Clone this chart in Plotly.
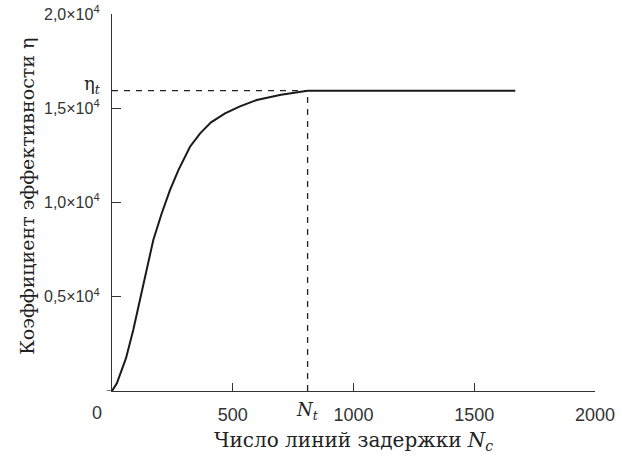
import plotly.graph_objects as go

# Data
n_lines = [0, 20, 40, 58, 88, 116, 144, 171, 206, 240, 275, 323, 365, 410, 468, 530, 599, 700, 810, 1670]
efficiency = [0, 410, 1110, 1740, 3240, 4830, 6420, 8010, 9430, 10660, 11720, 12960, 13670, 14250, 14730,
              15100, 15440, 15720, 15930, 15930]
NT = 810
ETA_T = 15930

x_tick_vals = [500, 1000, 1500, 2000]
x_tick_text = ["500", "1000", "1500", "2000"]
y_tick_vals = [5000, 10000, 15000, 20000]
y_tick_text = ["0,5×10<sup>4</sup>", "1,0×10<sup>4</sup>", "1,5×10<sup>4</sup>", "2,0×10<sup>4</sup>"]

SANS_N = "Liberation Sans Narrow, Liberation Sans, Arial, sans-serif"
SANS = "Liberation Sans, Arial, sans-serif"
SERIF = "DejaVu Serif, Liberation Serif, serif"
AX = "#333333"
TXT = "#222222"

fig = go.Figure()
fig.add_trace(go.Scatter(x=n_lines, y=efficiency, mode="lines",
                         line=dict(color="#1a1a1a", width=2), hoverinfo="skip", showlegend=False))

fig.add_shape(type="line", xref="x", yref="y", x0=0, x1=NT, y0=ETA_T, y1=ETA_T,
              line=dict(color=TXT, width=1.3, dash="6px,6px"))
fig.add_shape(type="line", xref="x", yref="y", x0=NT, x1=NT, y0=0, y1=ETA_T,
              line=dict(color=TXT, width=1.3, dash="6px,6px"))
# small extension of the x axis line to the left of the origin
fig.add_shape(type="line", xref="paper", yref="y", x0=-0.011, x1=0, y0=0, y1=0,
              line=dict(color=AX, width=1.3))

fig.add_annotation(xref="paper", yref="y", x=0, y=ETA_T, xanchor="right", yanchor="middle",
                   xshift=-9, yshift=6, text="η<sub><i>t</i></sub>", showarrow=False,
                   font=dict(family=SERIF, size=18, color=TXT))
fig.add_annotation(xref="x", yref="paper", x=NT, y=0, xanchor="center", yanchor="middle",
                   yshift=-20, text="<i>N</i><sub><i>t</i></sub>", showarrow=False,
                   font=dict(family=SERIF, size=18, color=TXT))
fig.add_annotation(xref="paper", yref="paper", x=0, y=0, xanchor="center", yanchor="middle",
                   xshift=-15, yshift=-22, text="0", showarrow=False,
                   font=dict(family=SANS_N, size=18, color=AX))
fig.add_annotation(xref="paper", yref="paper", x=0.5, y=0, xanchor="center", yanchor="middle",
                   yshift=-50, text="Число линий задержки <i>N</i><sub><i>c</i></sub>", showarrow=False,
                   font=dict(family=SERIF, size=20, color=TXT))
fig.add_annotation(xref="paper", yref="paper", x=0, y=0.515, xanchor="center", yanchor="middle",
                   xshift=-85, textangle=-90, text="Коэффициент эффективности η", showarrow=False,
                   font=dict(family=SERIF, size=19, color=TXT))

fig.update_layout(
    width=622, height=459,
    margin=dict(l=112, r=27, t=14, b=68),
    paper_bgcolor="white", plot_bgcolor="white",
    xaxis=dict(range=[0, 2000], tickvals=x_tick_vals, ticktext=x_tick_text, automargin=False,
               showgrid=False, zeroline=False, showline=True, linecolor=AX, linewidth=1.3,
               ticks="inside", ticklen=8, tickwidth=1.3, tickcolor=AX, ticklabelstandoff=7,
               ticklabeloverflow="allow",
               tickfont=dict(family=SANS_N, size=18, color=AX)),
    yaxis=dict(range=[0, 20000], tickvals=y_tick_vals, ticktext=y_tick_text, automargin=False,
               showgrid=False, zeroline=False, showline=True, linecolor=AX, linewidth=1.3,
               ticks="inside", ticklen=9, tickwidth=1.3, tickcolor=AX, ticklabelstandoff=8,
               ticklabeloverflow="allow",
               tickfont=dict(family=SANS, size=16, color=AX)),
)

fig.write_html("out.html", config={"displayModeBar": False},
               post_script="document.body.style.margin='0';")
